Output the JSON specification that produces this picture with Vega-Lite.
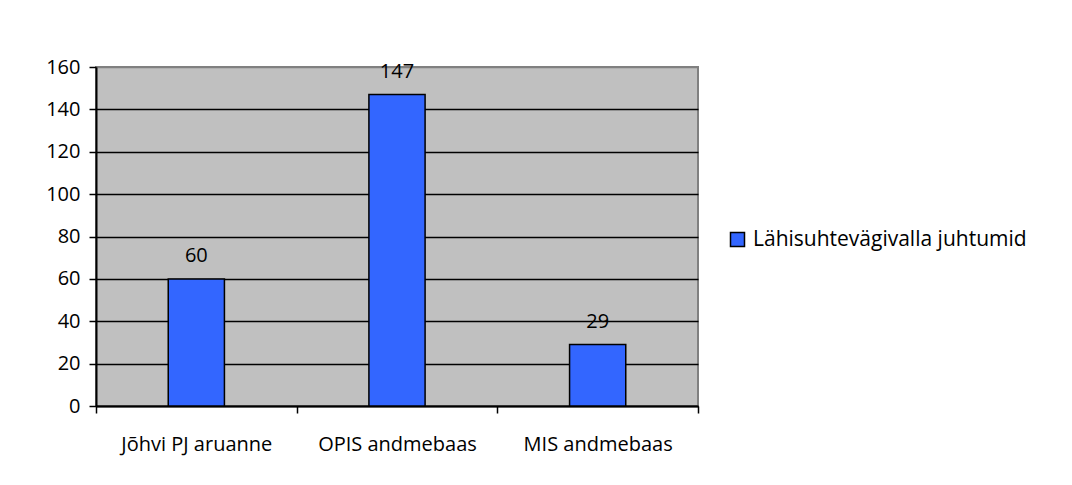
{
  "$schema": "https://vega.github.io/schema/vega-lite/v6.json",
  "autosize": "none",
  "padding": {"left": 96, "top": 67, "right": 374, "bottom": 79},
  "width": 602,
  "height": 339,
  "background": "white",
  "config": {
    "view": {"fill": "#C0C0C0", "stroke": "#808080", "strokeWidth": 2},
    "font": "Open Sans"
  },
  "data": {
    "values": [
      {"source": "Jõhvi PJ aruanne", "value": 60, "series": "Lähisuhtevägivalla juhtumid"},
      {"source": "OPIS andmebaas", "value": 147, "series": "Lähisuhtevägivalla juhtumid"},
      {"source": "MIS andmebaas", "value": 29, "series": "Lähisuhtevägivalla juhtumid"}
    ]
  },
  "encoding": {
    "x": {
      "field": "source",
      "type": "nominal",
      "sort": null,
      "scale": {"paddingInner": 0, "paddingOuter": 0},
      "axis": {
        "title": null,
        "labelAngle": 0,
        "labelFontSize": 20,
        "labelColor": "black",
        "labelFont": "Open Sans",
        "labelPadding": 21,
        "labelLimit": 0,
        "tickBand": "extent",
        "tickSize": 7,
        "tickColor": "black",
        "tickWidth": 1.5,
        "domainColor": "black",
        "domainWidth": 2,
        "grid": false
      }
    },
    "y": {
      "field": "value",
      "type": "quantitative",
      "scale": {"domain": [0, 160], "nice": false},
      "axis": {
        "title": null,
        "values": [0, 20, 40, 60, 80, 100, 120, 140, 160],
        "labelFontSize": 20,
        "labelColor": "black",
        "labelFont": "Open Sans",
        "labelPadding": 9,
        "tickSize": 7,
        "tickColor": "black",
        "tickWidth": 1.5,
        "domainColor": "black",
        "domainWidth": 2,
        "grid": true,
        "gridColor": {"condition": {"test": "datum.value === 160", "value": "#808080"}, "value": "black"},
        "gridWidth": 1.5,
        "gridOpacity": 1
      }
    }
  },
  "layer": [
    {
      "mark": {"type": "bar", "width": {"band": 0.28}, "stroke": "black", "strokeWidth": 1.5},
      "encoding": {
        "color": {
          "field": "series",
          "type": "nominal",
          "scale": {"range": ["#3366FF"]},
          "legend": {
            "title": null,
            "orient": "none",
            "legendX": 631,
            "legendY": 162,
            "symbolType": "square",
            "symbolSize": 196,
            "symbolStrokeColor": "black",
            "symbolStrokeWidth": 1.5,
            "symbolFillColor": "#3366FF",
            "labelFontSize": 21,
            "labelFont": "Open Sans",
            "labelColor": "black",
            "labelOffset": 5,
            "labelLimit": 0
          }
        }
      }
    },
    {
      "mark": {"type": "text", "baseline": "alphabetic", "dy": -17, "fontSize": 20, "color": "black", "font": "Open Sans"},
      "encoding": {"text": {"field": "value", "type": "quantitative"}}
    }
  ]
}
